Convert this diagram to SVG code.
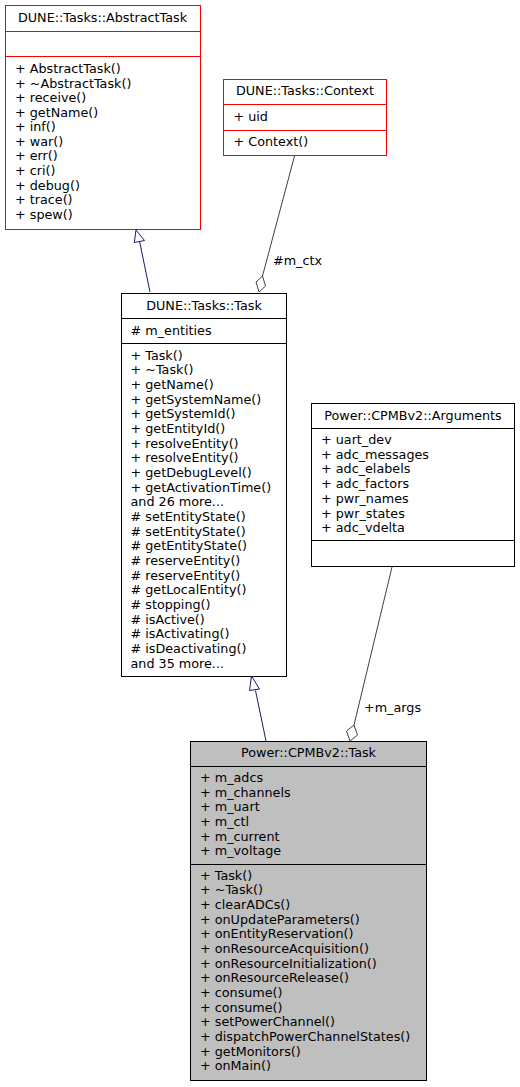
<svg xmlns="http://www.w3.org/2000/svg" width="520" height="1087" viewBox="0 0 520 1087">
<style>
text{font-family:"DejaVu Sans","Liberation Sans",sans-serif;font-size:12.75px;fill:#000}
.t{text-anchor:middle}
.box{fill:#fff;stroke:#000;stroke-width:1}
.red{fill:#fff;stroke:#ff0000;stroke-width:1}
.cur{fill:#bfbfbf;stroke:#000;stroke-width:1}
.sep{stroke:#000;stroke-width:1}
.sepr{stroke:#ff0000;stroke-width:1}
.inh{fill:none;stroke:#191970;stroke-width:1}
.agg{fill:none;stroke:#404040;stroke-width:1}
</style>
<rect width="520" height="1087" fill="#fff"/>
<g id="AbstractTask">
<rect class="red" x="5.5" y="5.5" width="195" height="224"/>
<line class="sepr" x1="5.5" y1="31.5" x2="200.5" y2="31.5"/>
<line class="sepr" x1="5.5" y1="56.5" x2="200.5" y2="56.5"/>
<text class="t" x="102.5" y="22">DUNE::Tasks::AbstractTask</text>
<text x="15" y="73"><tspan x="15">+ AbstractTask()</tspan><tspan x="15" dy="14.57">+ ~AbstractTask()</tspan><tspan x="15" dy="14.57">+ receive()</tspan><tspan x="15" dy="14.57">+ getName()</tspan><tspan x="15" dy="14.57">+ inf()</tspan><tspan x="15" dy="14.57">+ war()</tspan><tspan x="15" dy="14.57">+ err()</tspan><tspan x="15" dy="14.57">+ cri()</tspan><tspan x="15" dy="14.57">+ debug()</tspan><tspan x="15" dy="14.57">+ trace()</tspan><tspan x="15" dy="14.57">+ spew()</tspan></text>
</g>
<g id="Context">
<rect class="red" x="223.5" y="79.5" width="163" height="76"/>
<line class="sepr" x1="223.5" y1="104.5" x2="386.5" y2="104.5"/>
<line class="sepr" x1="223.5" y1="130.5" x2="386.5" y2="130.5"/>
<text class="t" x="305" y="95">DUNE::Tasks::Context</text>
<text x="233.5" y="121">+ uid</text>
<text x="233.5" y="146">+ Context()</text>
</g>
<g id="Task">
<rect class="box" x="121.5" y="293.5" width="165" height="383"/>
<line class="sep" x1="121.5" y1="318.5" x2="286.5" y2="318.5"/>
<line class="sep" x1="121.5" y1="343.5" x2="286.5" y2="343.5"/>
<text class="t" x="204" y="309.5">DUNE::Tasks::Task</text>
<text x="130.5" y="334.5"># m_entities</text>
<text x="130.5" y="359.5"><tspan x="130.5">+ Task()</tspan><tspan x="130.5" dy="14.67">+ ~Task()</tspan><tspan x="130.5" dy="14.67">+ getName()</tspan><tspan x="130.5" dy="14.67">+ getSystemName()</tspan><tspan x="130.5" dy="14.67">+ getSystemId()</tspan><tspan x="130.5" dy="14.67">+ getEntityId()</tspan><tspan x="130.5" dy="14.67">+ resolveEntity()</tspan><tspan x="130.5" dy="14.67">+ resolveEntity()</tspan><tspan x="130.5" dy="14.67">+ getDebugLevel()</tspan><tspan x="130.5" dy="14.67">+ getActivationTime()</tspan><tspan x="130.5" dy="14.67">and 26 more...</tspan><tspan x="130.5" dy="14.67"># setEntityState()</tspan><tspan x="130.5" dy="14.67"># setEntityState()</tspan><tspan x="130.5" dy="14.67"># getEntityState()</tspan><tspan x="130.5" dy="14.67"># reserveEntity()</tspan><tspan x="130.5" dy="14.67"># reserveEntity()</tspan><tspan x="130.5" dy="14.67"># getLocalEntity()</tspan><tspan x="130.5" dy="14.67"># stopping()</tspan><tspan x="130.5" dy="14.67"># isActive()</tspan><tspan x="130.5" dy="14.67"># isActivating()</tspan><tspan x="130.5" dy="14.67"># isDeactivating()</tspan><tspan x="130.5" dy="14.67">and 35 more...</tspan></text>
</g>
<g id="Arguments">
<rect class="box" x="311.5" y="403.5" width="203" height="163"/>
<line class="sep" x1="311.5" y1="428.5" x2="514.5" y2="428.5"/>
<line class="sep" x1="311.5" y1="540.5" x2="514.5" y2="540.5"/>
<text class="t" x="413" y="419.5">Power::CPMBv2::Arguments</text>
<text x="321" y="444"><tspan x="321">+ uart_dev</tspan><tspan x="321" dy="14.7">+ adc_messages</tspan><tspan x="321" dy="14.7">+ adc_elabels</tspan><tspan x="321" dy="14.7">+ adc_factors</tspan><tspan x="321" dy="14.7">+ pwr_names</tspan><tspan x="321" dy="14.7">+ pwr_states</tspan><tspan x="321" dy="14.7">+ adc_vdelta</tspan></text>
</g>
<g id="CPMBv2Task">
<rect class="cur" x="190.5" y="741.5" width="236" height="339"/>
<line class="sep" x1="190.5" y1="766.5" x2="426.5" y2="766.5"/>
<line class="sep" x1="190.5" y1="864.5" x2="426.5" y2="864.5"/>
<text class="t" x="308.5" y="757">Power::CPMBv2::Task</text>
<text x="200" y="782"><tspan x="200">+ m_adcs</tspan><tspan x="200" dy="14.68">+ m_channels</tspan><tspan x="200" dy="14.68">+ m_uart</tspan><tspan x="200" dy="14.68">+ m_ctl</tspan><tspan x="200" dy="14.68">+ m_current</tspan><tspan x="200" dy="14.68">+ m_voltage</tspan></text>
<text x="200" y="879.5"><tspan x="200">+ Task()</tspan><tspan x="200" dy="14.69">+ ~Task()</tspan><tspan x="200" dy="14.69">+ clearADCs()</tspan><tspan x="200" dy="14.69">+ onUpdateParameters()</tspan><tspan x="200" dy="14.69">+ onEntityReservation()</tspan><tspan x="200" dy="14.69">+ onResourceAcquisition()</tspan><tspan x="200" dy="14.69">+ onResourceInitialization()</tspan><tspan x="200" dy="14.69">+ onResourceRelease()</tspan><tspan x="200" dy="14.69">+ consume()</tspan><tspan x="200" dy="14.69">+ consume()</tspan><tspan x="200" dy="14.69">+ setPowerChannel()</tspan><tspan x="200" dy="14.69">+ dispatchPowerChannelStates()</tspan><tspan x="200" dy="14.69">+ getMonitors()</tspan><tspan x="200" dy="14.69">+ onMain()</tspan></text>
</g>
<g id="connectors">
<line class="inh" x1="150" y1="292" x2="139.5" y2="241"/>
<polygon class="inh" points="136,230 134.3,242.5 144.5,240.5"/>
<line class="agg" x1="294.5" y1="156" x2="262.5" y2="276"/>
<polygon class="agg" points="262.5,276 256,282 259,292 265.5,286"/>
<text x="273" y="264.5">#m_ctx</text>
<line class="inh" x1="266" y1="741" x2="255.5" y2="690.5"/>
<polygon class="inh" points="251.5,676 249.5,690.5 259.5,689"/>
<line class="agg" x1="392" y1="567" x2="354" y2="725"/>
<polygon class="agg" points="354,725 346.5,731 350,741 357.5,735"/>
<text x="364" y="712">+m_args</text>
</g>
</svg>
